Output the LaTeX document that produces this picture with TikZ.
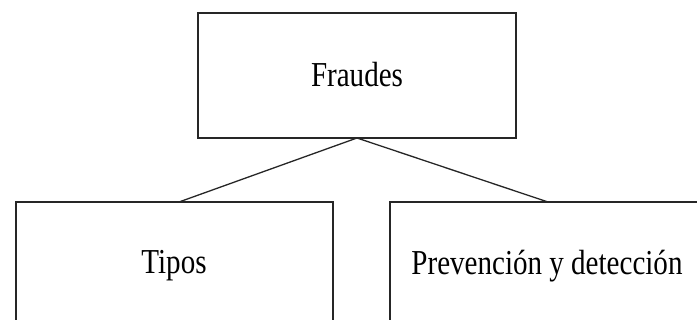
\documentclass[tikz,border=0pt]{standalone}
\usepackage{fontspec}
\newfontfamily\boxfont[FakeStretch=0.83]{Liberation Serif}
\begin{document}
\begin{tikzpicture}[x=1pt,y=-1pt,
  boxst/.style={draw=black!85,line width=1.4pt,rectangle,inner sep=0pt},
  lbl/.style={font=\boxfont\fontsize{35}{40}\selectfont,text=black},
  conn/.style={draw=black!85,line width=1.3pt}]
\useasboundingbox (0,0) rectangle (697,320);
\clip (0,0) rectangle (697,320);
\draw[boxst] (198,13) rectangle (516,138);
\node[lbl] (fraudes) at (357,75) {Fraudes};
\coordinate (fb) at (357,138);
\draw[boxst] (16,202) rectangle (333,330);
\node[lbl] (tipos) at (174,266) {Tipos};
\coordinate (tt) at (179,202);
\draw[boxst] (390,202) rectangle (707,330);
\node[lbl] (prev) at (547,266) {Prevención y detección};
\coordinate (pt) at (548,202);
\draw[conn] (fb) -- (tt);
\draw[conn] (fb) -- (pt);
\end{tikzpicture}
\end{document}
